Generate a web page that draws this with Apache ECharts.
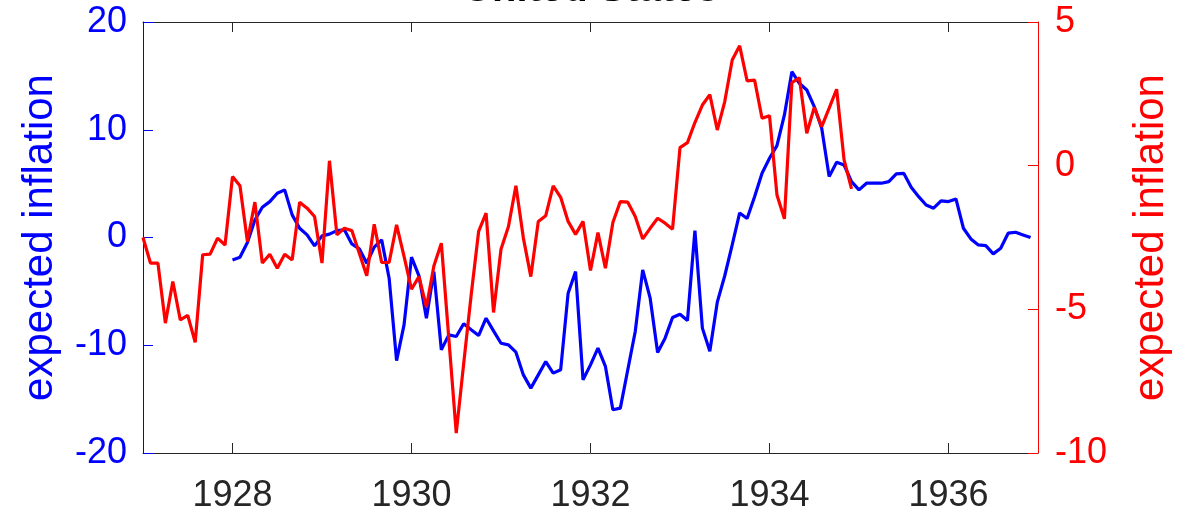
<!DOCTYPE html>
<html>
<head>
<meta charset="utf-8">
<title>United States</title>
<script src="https://cdn.jsdelivr.net/npm/echarts@6/dist/echarts.min.js"></script>
<style>
  html, body { margin: 0; padding: 0; background: #fff; }
  #chart { width: 1201px; height: 515px; }
</style>
</head>
<body>
<div id="chart"></div>
<script>
// Monthly series: red starts Jan 1927, blue starts Jan 1928
const redStart = 1927;
const blueStart = 1928;

// right axis (red), Jan 1927 .. Dec 1934
const redValues = [
  -2.50, -3.39, -3.39, -5.48, -4.03, -5.37, -5.21, -6.15, -3.10, -3.08, -2.52, -2.76,
  -0.38, -0.70, -2.64, -1.27, -3.39, -3.08, -3.57, -3.08, -3.28, -1.27, -1.48, -1.77,
  -3.39,  0.17, -2.41, -2.18, -2.26, -3.05, -3.83, -2.04, -3.37, -3.37, -2.06, -3.16,
  -4.30, -3.86, -4.92, -3.49, -2.70, -6.00, -9.31, -6.88, -4.50, -2.29, -1.65, -5.11,
  -2.91, -2.12, -0.70, -2.52, -3.86, -1.94, -1.74, -0.70, -1.10, -1.94, -2.39, -1.94,
  -3.65, -2.33, -3.57, -1.98, -1.25, -1.27, -1.77, -2.55, -2.18, -1.83, -2.00, -2.21,
   0.63,  0.80,  1.50,  2.11,  2.47,  1.24,  2.23,  3.68,  4.17,  2.95,  2.98,  1.65,
   1.74, -1.02, -1.85,  2.89,  3.06,  1.13,  2.03,  1.36,  2.00,  2.66,  0.20, -0.81
];

// left axis (blue), Jan 1928 .. Dec 1936
const blueValues = [
  -2.08, -1.83, -0.47,  1.63,  2.81,  3.33,  4.11,  4.42,  2.10,  0.86,  0.24, -0.78,
   0.15,  0.31,  0.64,  0.71, -0.60, -1.05, -2.39, -0.90, -0.22, -3.78, -11.42, -8.11,
  -1.83, -3.56, -7.49, -3.16, -10.43, -9.04, -9.19, -8.01, -8.57, -9.10, -7.49, -8.66,
  -9.81, -9.96, -10.64, -12.75, -13.98, -12.75, -11.51, -12.59, -12.28, -5.17, -3.16, -13.21,
  -11.82, -10.27, -11.97, -15.99, -15.84, -12.28, -8.73, -3.00, -5.63, -10.67, -9.34, -7.43,
  -7.12, -7.71,  0.64, -8.41, -10.55, -6.00, -3.55, -0.69,  2.28,  1.76,  3.79,  5.96,
   7.36,  8.53, 11.37, 15.39, 14.31, 13.69, 12.15, 10.14,  5.65,  6.98,  6.73,  5.19,
   4.42,  5.04,  5.04,  5.04,  5.19,  5.90,  5.96,  4.67,  3.79,  3.02,  2.72,  3.40,
   3.33,  3.58,  0.86, -0.13, -0.69, -0.75, -1.52, -0.99,  0.40,  0.49,  0.24, -0.01
];

const yearTicks = [1928, 1930, 1932, 1934, 1936];
const leftTicks = [-20, -10, 0, 10, 20];
const rightTicks = [-10, -5, 0, 5];

const toMonthly = (start, vals) => vals.map((v, i) => [start + i / 12, v]);

const FONT = '"Liberation Sans", Arial, Helvetica, sans-serif';
const DARK = '#262626';
const BLUE = '#0000ff';
const RED = '#ff0000';

const chart = echarts.init(document.getElementById('chart'), null, { renderer: 'canvas' });

chart.setOption({
  animation: false,
  backgroundColor: '#ffffff',
  textStyle: { fontFamily: FONT },
  grid: { left: 143, right: 163, top: 22, bottom: 62, containLabel: false },
  graphic: [{
    type: 'text',
    x: 591,
    y: -10,
    style: {
      text: 'United States',
      fill: '#000',
      font: 'bold 40px ' + FONT,
      align: 'center',
      verticalAlign: 'middle'
    }
  }],
  xAxis: [{
    type: 'value',
    position: 'bottom',
    min: 1927,
    max: 1937,
    splitLine: { show: false },
    axisLine: { show: true, onZero: false, lineStyle: { color: DARK, width: 1 } },
    axisTick: { show: true, inside: true, length: 10, customValues: yearTicks, lineStyle: { color: DARK } },
    axisLabel: {
      show: true,
      customValues: yearTicks,
      formatter: (v) => String(Math.round(v)),
      color: DARK,
      fontSize: 36,
      margin: 25,
      fontFamily: FONT
    }
  }, {
    type: 'value',
    position: 'top',
    min: 1927,
    max: 1937,
    splitLine: { show: false },
    axisLine: { show: true, onZero: false, lineStyle: { color: DARK, width: 1 } },
    axisTick: { show: true, inside: true, length: 10, customValues: yearTicks, lineStyle: { color: DARK } },
    axisLabel: { show: false }
  }],
  yAxis: [{
    type: 'value',
    position: 'left',
    min: -20,
    max: 20,
    name: 'expected inflation',
    nameLocation: 'middle',
    nameRotate: 90,
    nameGap: 82,
    nameTextStyle: { color: BLUE, fontSize: 42, fontFamily: FONT },
    splitLine: { show: false },
    axisLine: { show: true, onZero: false, lineStyle: { color: BLUE, width: 1 } },
    axisTick: { show: true, inside: true, length: 10, customValues: leftTicks, lineStyle: { color: BLUE } },
    axisLabel: { customValues: leftTicks, color: BLUE, fontSize: 36, margin: 16, fontFamily: FONT }
  }, {
    type: 'value',
    position: 'right',
    min: -10,
    max: 5,
    name: 'expected inflation',
    nameLocation: 'middle',
    nameRotate: 90,
    nameGap: 92,
    nameTextStyle: { color: RED, fontSize: 42, fontFamily: FONT },
    splitLine: { show: false },
    axisLine: { show: true, onZero: false, lineStyle: { color: RED, width: 1 } },
    axisTick: { show: true, inside: true, length: 10, customValues: rightTicks, lineStyle: { color: RED } },
    axisLabel: { customValues: rightTicks, color: RED, fontSize: 36, margin: 17, fontFamily: FONT }
  }],
  series: [{
    name: 'blue',
    type: 'line',
    xAxisIndex: 0,
    yAxisIndex: 0,
    data: toMonthly(blueStart, blueValues),
    showSymbol: false,
    symbol: 'none',
    lineStyle: { color: BLUE, width: 3.2 },
    z: 2
  }, {
    name: 'red',
    type: 'line',
    xAxisIndex: 0,
    yAxisIndex: 1,
    data: toMonthly(redStart, redValues),
    showSymbol: false,
    symbol: 'none',
    lineStyle: { color: RED, width: 3.2 },
    z: 3
  }]
});
</script>
</body>
</html>
